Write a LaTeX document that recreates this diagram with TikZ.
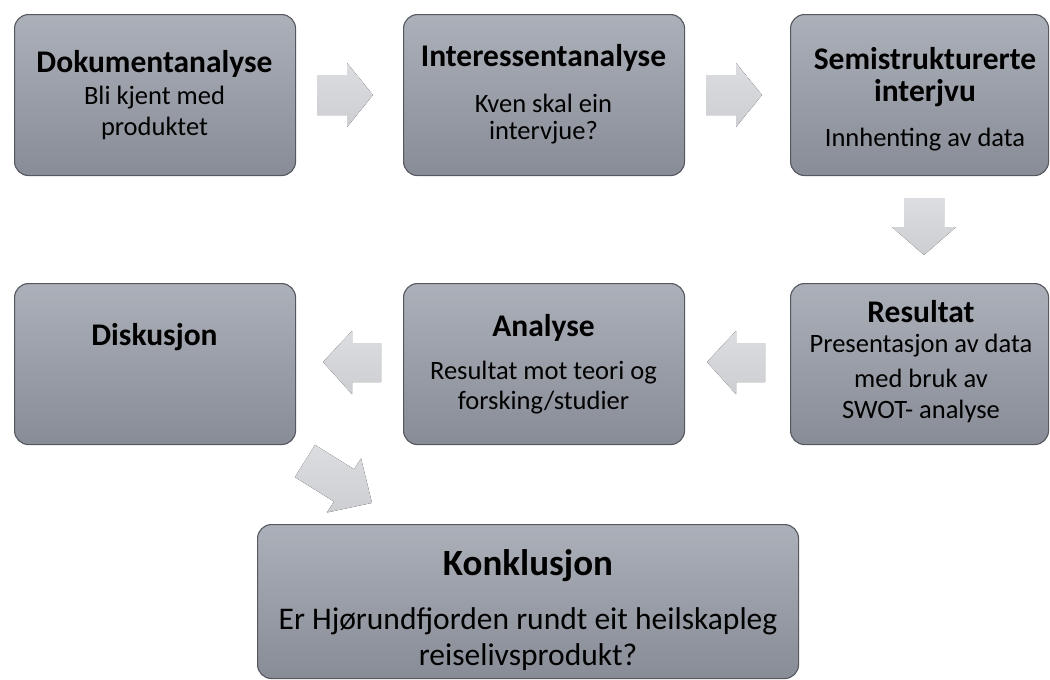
\documentclass[tikz,border=0pt]{standalone}
\usepackage{fontspec}
\setmainfont{Carlito}
\definecolor{boxtop}{HTML}{ACB0B9}
\definecolor{boxbot}{HTML}{878C96}
\definecolor{boxline}{HTML}{55585E}
\definecolor{arrtop}{HTML}{DCDDE0}
\definecolor{arrbot}{HTML}{CDCED2}
\tikzset{
  stepbox/.style={draw=boxline, line width=1.1pt, rounded corners=14pt,
    top color=boxtop, bottom color=boxbot, minimum width=281pt,
    minimum height=161pt, anchor=north west, inner sep=0pt},
  edgebox/.style={stepbox, minimum width=258pt},
  bigbox/.style={stepbox, minimum width=541pt, minimum height=154pt},
  ttl/.style={font=\bfseries\fontsize{31.5}{36}\selectfont, text=black},
  sub/.style={font=\fontsize{26.5}{30}\selectfont, text=black},
  bttl/.style={font=\bfseries\fontsize{37}{42}\selectfont, text=black},
  bsub/.style={font=\fontsize{31.5}{36}\selectfont, text=black},
  blk/.style={top color=arrtop, bottom color=arrbot, draw=none}
}
\begin{document}
\begin{tikzpicture}[x=1pt,y=-1pt]
\useasboundingbox (0,0) rectangle (1050,680);
% boxes
\node[stepbox] (b1) at (14,14) {};
\node[stepbox] (b2) at (403,14) {};
\node[edgebox] (b3) at (790,14) {};
\node[edgebox] (b4) at (790,283) {};
\node[stepbox] (b5) at (403,283) {};
\node[stepbox] (b6) at (14,283) {};
\node[bigbox] (b7) at (257,524) {};
% texts
\node[ttl] (t1) at (154.5,64) {Dokumentanalyse};
\node[sub] (s1a) at (154.5,98) {Bli kjent med};
\node[sub] (s1b) at (154.5,128) {produktet};
\node[ttl] (t2) at (543.5,58) {Interessentanalyse};
\node[sub] (s2a) at (543.5,103) {Kven skal ein};
\node[sub] (s2b) at (543.5,133) {intervjue?};
\node[ttl] (t3) at (925,59) {Semistrukturerte};
\node[ttl] (t3b) at (925,93) {interjvu};
\node[sub] (s3) at (925,140) {Innhenting av data};
\node[ttl] (t4) at (921,312) {Resultat};
\node[sub] (s4a) at (921,346) {Presentasjon av data};
\node[sub] (s4b) at (921,378) {med bruk av};
\node[sub] (s4c) at (921,411) {SWOT- analyse};
\node[ttl] (t5) at (543.5,328) {Analyse};
\node[sub] (s5a) at (543.5,373) {Resultat mot teori og};
\node[sub] (s5b) at (543.5,403) {forsking/studier};
\node[ttl] (t6) at (154.5,337) {Diskusjon};
\node[bttl] (t7) at (528,566) {Konklusjon};
\node[bsub] (s7a) at (528,621) {Er Hjørundfjorden rundt eit heilskapleg};
\node[bsub] (s7b) at (528,657) {reiselivsprodukt?};
% block arrows
\fill[blk] (317,75) -- (347,75) -- (347,63) -- (373,95) -- (347,127) -- (347,115) -- (317,115) -- cycle;
\fill[blk] (706,75) -- (736,75) -- (736,63) -- (762,95) -- (736,127) -- (736,115) -- (706,115) -- cycle;
\fill[blk] (904,198) -- (944,198) -- (944,227) -- (956,227) -- (924,255) -- (892,227) -- (904,227) -- cycle;
\fill[blk] (765,343) -- (736,343) -- (736,331) -- (707,362) -- (736,394) -- (736,382) -- (765,382) -- cycle;
\fill[blk] (381,343) -- (352,343) -- (352,331) -- (323,362) -- (352,394) -- (352,382) -- (381,382) -- cycle;
\fill[blk] (315.1,444.9) -- (354.1,469.3) -- (361.0,458.4) -- (372.0,502.9) -- (327.0,512.5) -- (333.9,501.5) -- (294.9,477.1) -- cycle;
\end{tikzpicture}
\end{document}
